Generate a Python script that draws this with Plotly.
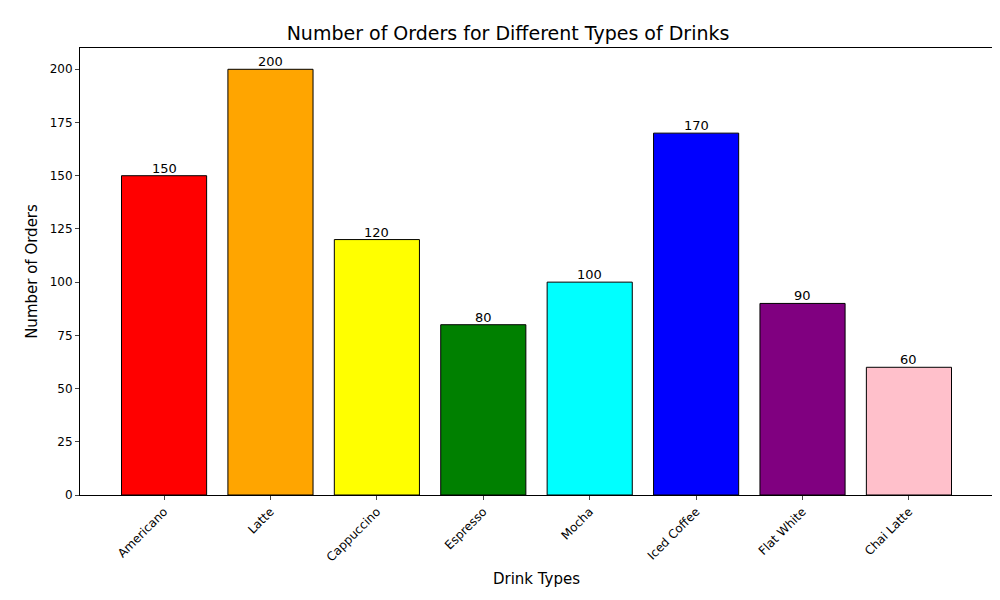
import plotly.graph_objects as go

drinks = ["Americano", "Latte", "Cappuccino", "Espresso", "Mocha", "Iced Coffee", "Flat White", "Chai Latte"]
orders = [150, 200, 120, 80, 100, 170, 90, 60]
colors = ["red", "orange", "yellow", "green", "cyan", "blue", "purple", "pink"]

fig = go.Figure()
fig.add_trace(go.Bar(
    x=drinks, y=orders, width=0.8,
    marker=dict(color=colors, line=dict(color="black", width=1)),
    showlegend=False,
))
# value labels sitting just above each bar
for d, v in zip(drinks, orders):
    fig.add_annotation(x=d, y=v, text=str(v), showarrow=False, yanchor="bottom",
                       yshift=-2, font=dict(size=13, color="black"))

fig.update_layout(
    width=1000, height=600,
    margin=dict(l=72, r=15, t=40, b=113, autoexpand=False),
    plot_bgcolor="white", paper_bgcolor="white",
    font=dict(family="DejaVu Sans", size=12, color="black"),
    title=dict(text="Number of Orders for Different Types of Drinks", x=0.5, xanchor="center",
               y=0.958, yanchor="middle", font=dict(size=19)),
)
fig.update_xaxes(
    range=[-0.79, 7.79], tickangle=-45, ticks="outside", ticklen=4, automargin=False,
    showline=True, linecolor="black", mirror=True,
    title=dict(text="Drink Types", font=dict(size=15), standoff=10),
)
fig.update_yaxes(
    range=[0, 210], dtick=25, ticks="outside", ticklen=4, automargin=False,
    showline=True, linecolor="black", mirror=True, showgrid=False, zeroline=False,
    title=dict(text="Number of Orders", font=dict(size=15), standoff=8),
)

fig.write_html("out.html")
